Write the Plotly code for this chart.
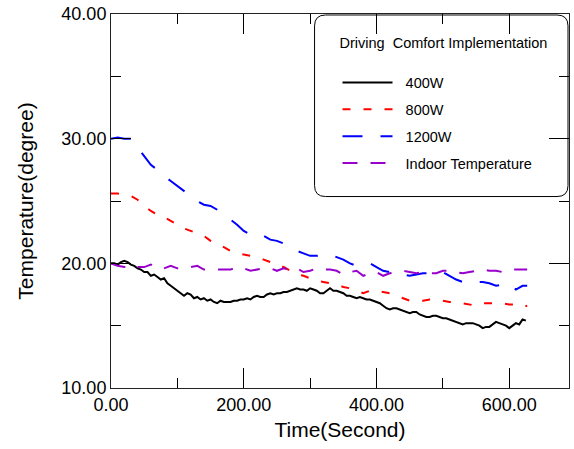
import plotly.graph_objects as go

# ---- data ----
t_black = list(range(0, 630, 5))
w400 = [20.0, 20.0, 19.9, 20.1, 20.2, 20.1, 19.9, 19.8, 19.6, 19.5,
        19.3, 19.3, 19.0, 19.1, 18.9, 18.7, 18.8, 18.4, 18.2, 18.0,
        17.8, 17.6, 17.4, 17.6, 17.5, 17.2, 17.3, 17.1, 17.2, 17.0,
        17.1, 16.9, 16.8, 17.0, 16.9, 16.9, 16.9, 17.0, 17.0, 17.1,
        17.1, 17.2, 17.1, 17.3, 17.4, 17.3, 17.3, 17.5, 17.6, 17.5,
        17.6, 17.6, 17.7, 17.7, 17.8, 17.9, 18.0, 17.9, 17.9, 17.8,
        18.0, 17.9, 17.8, 17.6, 17.6, 17.8, 18.0, 17.8, 17.8, 17.7,
        17.6, 17.4, 17.4, 17.3, 17.2, 17.3, 17.2, 17.1, 17.1, 17.0,
        16.9, 16.8, 16.6, 16.4, 16.3, 16.4, 16.4, 16.3, 16.2, 16.1,
        16.0, 16.1, 16.1, 15.9, 15.8, 15.7, 15.7, 15.8, 15.8, 15.7,
        15.6, 15.6, 15.5, 15.4, 15.3, 15.2, 15.1, 15.2, 15.2, 15.2,
        15.1, 15.0, 14.8, 14.9, 14.9, 15.1, 15.3, 15.2, 15.1, 15.0,
        14.8, 15.0, 15.2, 15.1, 15.5, 15.4]

t = list(range(0, 630, 10)) + [627]

w800 = [25.6, 25.6, 25.5, 25.4, 25.1, 24.6, 24.2, 23.9, 23.7, 23.4,
        23.1, 22.8, 22.6, 22.4, 22.2, 21.8, 21.5, 21.3, 21.0, 20.8,
        20.7, 20.6, 20.5, 20.3, 20.1, 19.8, 19.7, 19.4, 19.1, 19.0,
        18.8, 18.6, 18.5, 18.4, 18.3, 18.1, 18.0, 17.8, 17.6, 17.8,
        17.8, 17.7, 17.6, 17.4, 17.2, 17.0, 17.0, 17.0, 17.1, 17.1,
        17.0, 16.9, 16.9, 16.8, 16.7, 16.6, 16.8, 16.8, 16.8, 16.8,
        16.7, 16.7, 16.5, 16.6]

w1200 = [30.0, 30.1, 30.0, 30.0, 29.3, 28.6, 27.9, 27.5, 27.0, 26.6,
         26.2, 25.8, 25.4, 25.0, 24.7, 24.6, 24.3, 23.9, 23.5, 23.1,
         22.6, 22.3, 22.4, 22.2, 21.9, 21.8, 21.6, 21.3, 21.0, 20.8,
         20.6, 20.6, 20.7, 20.7, 20.5, 20.3, 20.0, 19.8, 19.9, 20.0,
         19.7, 19.4, 19.3, 19.2, 19.1, 19.0, 19.1, 19.2, 19.2, 19.3,
         19.3, 19.0, 18.7, 18.5, 18.4, 18.5, 18.5, 18.4, 18.2, 18.3,
         18.4, 17.9, 18.2, 18.2]

indoor = [20.0, 19.8, 19.7, 19.9, 19.7, 19.7, 19.9, 19.6, 19.6, 19.8,
          19.6, 19.6, 19.7, 19.8, 19.5, 19.5, 19.5, 19.5, 19.5, 19.7,
          19.6, 19.4, 19.5, 19.6, 19.6, 19.4, 19.6, 19.5, 19.6, 19.3,
          19.4, 19.6, 19.5, 19.5, 19.4, 19.1, 19.3, 19.4, 19.0, 19.2,
          19.3, 19.0, 19.2, 19.3, 19.4, 19.3, 19.2, 19.3, 19.2, 19.2,
          19.4, 19.4, 19.3, 19.2, 19.3, 19.4, 19.5, 19.4, 19.4, 19.3,
          19.5, 19.5, 19.5, 19.5]

names = ["400W", "800W", "1200W", "Indoor Temperature"]
xs = [t_black, t, t, t]
series = [w400, w800, w1200, indoor]
colors = ["#000000", "#ff0000", "#0000ff", "#9900cc"]
dashes = ["solid", "8px,13px", "20px,18px", "15px,13px"]

x_ticks = [0, 200, 400, 600]
y_ticks = [10, 20, 30, 40]

FONT = "Liberation Sans, Arial, sans-serif"

fig = go.Figure()
for i, (nm, xx, ys, c, d) in enumerate(zip(names, xs, series, colors, dashes)):
    fig.add_trace(go.Scatter(
        x=xx, y=ys, mode="lines", name="\u00a0\u00a0" + nm,
        legendgroup=f"g{i}",
        line=dict(color=c, width=2, dash=d),
    ))

# plot frame: left 111, right 570, top 11, bottom 388 (px)
W, H = 574, 449
L, R, T, B = 111, 4, 11, 61
pw, ph = W - L - R, H - T - B


def px2paper(x, y):
    return (x - L) / pw, (H - B - y) / ph


# rounded legend box
x0, y0 = px2paper(315, 12)
x1, y1 = px2paper(569, 195)
rx, ry = 11 / pw, 11 / ph
path = (f"M{x0+rx},{y0} L{x1-rx},{y0} Q{x1},{y0} {x1},{y0-ry} "
        f"L{x1},{y1+ry} Q{x1},{y1} {x1-rx},{y1} L{x0+rx},{y1} "
        f"Q{x0},{y1} {x0},{y1+ry} L{x0},{y0-ry} Q{x0},{y0} {x0+rx},{y0} Z")
fig.add_shape(type="path", path=path, xref="paper", yref="paper",
              line=dict(color="#000000", width=1), fillcolor="rgba(0,0,0,0)",
              layer="below")

lx, ly = px2paper(338, 26)

axis_common = dict(
    showline=True, linecolor="#222222", linewidth=1, mirror="allticks",
    ticks="inside", ticklen=20, tickcolor="#000000", tickwidth=1,
    showgrid=False, zeroline=False, tickformat=".2f",
    tickfont=dict(family=FONT, size=18, color="#000000"),
)

fig.update_layout(
    width=W, height=H,
    margin=dict(l=L, r=R, t=T, b=B),
    paper_bgcolor="white", plot_bgcolor="white",
    font=dict(family=FONT, color="#000000"),
    xaxis=dict(range=[0, 690], tickvals=x_ticks,
               minor=dict(ticks="inside", ticklen=10, dtick=100, tick0=0,
                          tickcolor="#000000"),
               title=dict(text="Time(Second)", font=dict(family=FONT, size=21),
                          standoff=8),
               **axis_common),
    yaxis=dict(range=[10, 40], tickvals=y_ticks,
               minor=dict(ticks="inside", ticklen=10, dtick=5, tick0=0,
                          tickcolor="#000000"),
               title=dict(text="Temperature(degree)", font=dict(family=FONT, size=21),
                          standoff=22),
               **axis_common),
    legend=dict(
        x=lx, y=ly, xanchor="left", yanchor="top",
        bgcolor="rgba(0,0,0,0)", borderwidth=0,
        font=dict(family=FONT, size=14.5, color="#000000"),
        title=dict(text="Driving\u00a0 Comfort Implementation<br>\u00a0",
                   font=dict(family=FONT, size=14.5, color="#000000")),
        itemwidth=50, tracegroupgap=5,
    ),
    showlegend=True,
)

fig.write_html("out.html")
